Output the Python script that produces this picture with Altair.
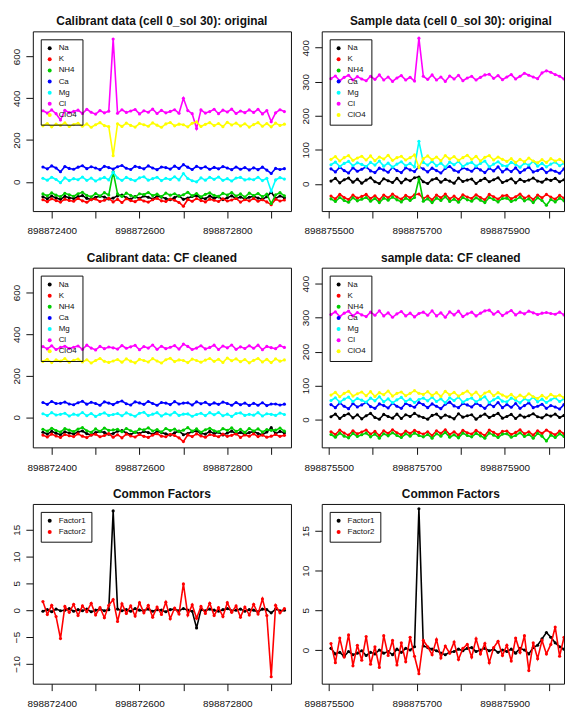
import altair as alt
import pandas as pd

ION_NAMES = ["Na", "K", "NH4", "Ca", "Mg", "Cl", "ClO4"]
ION_COLORS = ["#000000", "#FF0000", "#00CD00", "#0000FF", "#00FFFF", "#FF00FF", "#FFFF00"]
FACTOR_NAMES = ["Factor1", "Factor2"]
FACTOR_COLORS = ["#000000", "#FF0000"]

CAL_TIME_START = 898872380
SMP_TIME_START = 898875505
TIME_STEP = 10

# ---------------- calibrant, original ----------------
CAL_NA = [-72, -81, -68, -77, -84, -70, -76, -80,
          -71, -66, -79, -85, -74, -69, -73, -82,
          -78, -67, -64, -76, -83, -71, -79, -68,
          -74, -82, -69, -73, -80, -86, -75, -67,
          -84, -78, -70, -66, -77, -81, -68, -79,
          -72, -85, -76, -67, -80, -73, -82, -74,
          -69, -78, -84, -71, -50, -79, -68, -76]
CAL_K = [-86, -95, -81, -90, -97, -83, -89, -93,
         -80, -91, -98, -85, -82, -94, -88, -79,
         -96, -84, -99, -81, -90, -95, -83, -92,
         -97, -86, -79, -91, -94, -82, -88, -99,
         -117, -85, -93, -80, -90, -96, -83, -88,
         -94, -81, -92, -87, -79, -97, -85, -91,
         -80, -93, -86, -96, -110, -83, -92, -87]
CAL_NH4 = [-58, -67, -53, -64, -71, -55, -62, -69,
           -57, -50, -65, -72, -56, -68, -52, -63,
           48, -58, -70, -54, -65, -73, -57, -61,
           -51, -66, -59, -71, -54, -64, -57, -69,
           -62, -50, -67, -56, -72, -60, -53, -65,
           -70, -55, -63, -51, -68, -58, -73, -54,
           -66, -56, -71, -59, -104, -62, -52, -67]
CAL_CA = [71, 62, 76, 66, 48, 73, 64, 60,
          70, 77, 63, 72, 66, 58, 74, 68,
          61, 72, 78, 65, 59, 74, 69, 62,
          76, 66, 58, 71, 68, 61, 75, 64,
          82, 70, 59, 74, 65, 72, 60, 69,
          62, 73, 66, 58, 71, 60, 68, 57,
          67, 58, 70, 56, 40, 64, 59, 63]
CAL_MG = [17, 8, 22, 11, -4, 19, 6, 15,
          10, 23, 7, 18, 4, 14, 21, 9,
          46, 18, 7, 21, 12, 5, 19, 24,
          8, 15, 22, 6, 17, 11, 24, 9,
          40, 16, 5, 0, 19, 8, 22, 12,
          23, 7, 15, 4, 18, 21, 9, 14,
          10, 22, 6, 17, -45, 9, 20, 13]
CAL_CL = [340, 329, 344, 326, 296, 342, 331, 337,
          343, 327, 347, 333, 324, 341, 330, 338,
          683, 328, 345, 332, 339, 346, 325, 340,
          333, 348, 327, 342, 330, 337, 345, 328,
          400, 341, 326, 255, 344, 329, 336, 347,
          326, 343, 334, 348, 327, 339, 331, 344,
          332, 347, 325, 341, 288, 330, 345, 336]
CAL_CLO4 = [268, 279, 263, 276, 270, 282, 265, 274,
            280, 266, 277, 261, 273, 283, 269, 264,
            125, 278, 265, 281, 270, 262, 279, 273,
            266, 282, 271, 261, 277, 284, 268, 276,
            273, 263, 280, 287, 265, 275, 283, 269,
            279, 264, 285, 272, 281, 267, 278, 262,
            274, 283, 266, 279, 263, 281, 270, 276]

# values that differ after the common-factor cleaning (index -> value)
CAL_CLEANED_VALUES = {
    "K": {52: -91},
    "NH4": {16: -61, 52: -63},
    "Ca": {4: 67, 32: 68, 52: 64},
    "Mg": {4: 14, 16: 13, 32: 15, 35: 13, 52: 14},
    "Cl": {4: 336, 16: 334, 32: 352, 35: 333, 52: 335},
    "ClO4": {16: 271, 35: 273},
}

# ---------------- sample, original ----------------
SMP_NA = [8, 16, 3, 12, 17, 5, 14, 2,
          11, 18, 6, 1, 15, 9, 4, 16,
          3, 14, 9, 18, 20, 6, 1, 12,
          16, 5, 13, 8, 2, 17, 7, 11,
          14, 1, 10, 16, 6, 12, 18, 4,
          9, 15, 3, 13, 7, 11, 17, 8,
          5, 14, 10, 16, 6, 12, 2, 15]
SMP_K = [-36, -44, -31, -40, -46, -33, -42, -37,
         -31, -43, -35, -47, -33, -41, -30, -39,
         -45, -34, -41, -32, -30, -43, -36, -47,
         -33, -41, -30, -44, -36, -46, -32, -39,
         -43, -32, -40, -47, -31, -38, -45, -35,
         -34, -44, -38, -30, -42, -36, -46, -33,
         -41, -31, -39, -45, -34, -42, -36, -44]
SMP_NH4 = [-44, -52, -40, -49, -54, -41, -50, -45,
           -40, -51, -43, -55, -42, -48, -39, -47,
           -53, -42, -49, -40, 15, -51, -44, -55,
           -42, -49, -38, -52, -45, -54, -40, -47,
           -51, -41, -48, -55, -40, -46, -53, -43,
           -42, -52, -47, -39, -50, -44, -55, -41,
           -49, -63, -46, -53, -42, -50, -44, -52]
SMP_CA = [44, 35, 49, 39, 32, 47, 37, 43,
          50, 38, 33, 46, 41, 34, 48, 39,
          33, 47, 41, 36, 50, 44, 35, 46,
          39, 32, 45, 51, 40, 35, 47, 43,
          37, 48, 41, 33, 46, 38, 50, 35,
          44, 36, 47, 33, 41, 49, 35, 39,
          45, 33, 41, 37, 31, 44, 36, 40]
SMP_MG = [56, 64, 51, 60, 66, 53, 62, 57,
          51, 63, 55, 67, 52, 61, 49, 58,
          65, 53, 60, 50, 125, 63, 55, 66,
          53, 61, 49, 64, 56, 66, 51, 59,
          63, 52, 60, 67, 50, 58, 65, 54,
          52, 63, 57, 49, 61, 55, 66, 52,
          60, 50, 58, 64, 53, 61, 56, 62]
SMP_CL = [309, 317, 303, 313, 319, 305, 315, 308,
          303, 316, 307, 320, 305, 314, 301, 311,
          318, 305, 313, 302, 428, 316, 307, 320,
          305, 314, 301, 317, 308, 319, 303, 311,
          316, 305, 313, 320, 322, 310, 318, 306,
          314, 321, 308, 316, 325, 319, 314, 309,
          326, 332, 328, 321, 316, 308, 315, 307]
SMP_CLO4 = [72, 80, 67, 77, 83, 69, 76, 81,
            70, 82, 68, 79, 73, 84, 69, 77,
            81, 70, 77, 85, 48, 74, 82, 71,
            79, 68, 83, 73, 80, 69, 77, 84,
            72, 81, 67, 78, 83, 70, 79, 72,
            66, 74, 63, 72, 65, 76, 67, 62,
            71, 63, 74, 67, 72, 64, 75, 69]

SMP_CLEANED_VALUES = {
    "Na": {20: 10},
    "K": {20: -38},
    "NH4": {20: -47},
    "Mg": {20: 59},
    "Cl": {20: 312, 44: 311, 48: 313, 49: 315, 50: 312, 51: 310},
    "ClO4": {20: 77},
}

# ---------------- common factors ----------------
CF_CAL_F1 = [-0.2, 0.1, -0.3, 0.2, -0.1, 0.0, 0.3, -0.2,
             0.1, -0.1, 0.2, -0.3, 0.0, 0.2, -0.1, 0.1,
             18.5, 0.2, -0.1, 0.1, -0.2, 0.3, 0.0, -0.1,
             0.2, -0.2, 0.1, 0.0, -0.3, 0.1, 0.2, -0.1,
             0.3, 0.0, -0.2, -3.3, 0.1, -0.1, 0.2, 0.0,
             -0.2, 0.1, 0.3, -0.1, 0.0, 0.2, -0.2, 0.1,
             0.0, -0.3, 0.2, 0.1, -0.5, 0.2, -0.1, 0.0]
CF_CAL_F2 = [1.6, -0.8, 0.9, -1.2, -5.3, 0.7, -0.4, 1.1,
             -1.0, 0.8, -0.3, 1.3, -0.9, 0.5, -1.4, 0.9,
             2.0, -2.1, 1.2, -0.6, 0.8, -1.1, 1.4, -0.5,
             0.9, -1.3, 0.6, -0.8, 1.5, -1.6, 0.4, -0.7,
             4.9, -0.9, 1.0, -1.5, 0.7, -0.6, 1.3, -1.0,
             0.5, -1.2, 1.4, -0.4, 0.8, -1.3, 0.6, -0.9,
             1.1, -0.7, 2.1, -1.0, -12.4, 0.9, -0.5, 0.3]
CF_SMP_F1 = [0.2, -0.5, -0.3, -0.8, -0.2, -0.6, -0.4, -0.1,
             -0.7, -0.3, -0.5, 0.0, -0.4, -0.2, -0.6, 0.1,
             -0.3, 0.2, 0.0, 0.4, 17.8, 0.5, 0.3, 0.1,
             -0.1, -0.4, -0.6, -0.3, -0.2, 0.1, -0.1, 0.2,
             0.3, -0.2, 0.0, 0.2, -0.1, 0.1, -0.3, 0.0,
             -0.2, 0.1, -0.4, 0.2, 0.0, -0.5, 0.3, 0.6,
             1.4, 2.2, 1.6, 0.9, 0.4, 0.1, 0.3, -0.2]
CF_SMP_F2 = [0.8, -1.6, 1.5, -0.9, 1.9, -2.0, 0.6, -1.3,
             1.7, -1.8, 0.4, -2.2, 1.8, -0.7, 1.2, -1.9,
             0.9, -1.5, 1.6, -0.8, -3.0, 1.2, 0.4, -0.6,
             1.3, -1.0, 0.5, -0.4, 1.0, -1.2, 0.2, 0.7,
             -0.9, 1.4, -0.5, 0.8, -1.6, 0.3, 1.1, -0.7,
             0.6, -1.4, 1.5, -0.3, 1.8, -2.6, 0.9, -1.1,
             1.2, -0.5, 0.7, 2.9, -0.8, 1.6, -0.4, 0.5]

CAL_X_TICKS = [898872400, 898872500, 898872600, 898872700, 898872800, 898872900]
SMP_X_TICKS = [898875500, 898875600, 898875700, 898875800, 898875900, 898876000]
CAL_Y_TICKS = [0, 200, 400, 600]
SMP_Y_TICKS = [0, 100, 200, 300, 400]
CF_CAL_Y_TICKS = [-10, -5, 0, 5, 10, 15]
CF_SMP_Y_TICKS = [0, 5, 10, 15]

FONT = "Liberation Sans, Arial, Helvetica, sans-serif"
TITLE_FONT = "Liberation Sans Narrow, Liberation Sans, Arial, sans-serif"

CAL_ORIG = dict(zip(ION_NAMES, [CAL_NA, CAL_K, CAL_NH4, CAL_CA, CAL_MG, CAL_CL, CAL_CLO4]))
SMP_ORIG = dict(zip(ION_NAMES, [SMP_NA, SMP_K, SMP_NH4, SMP_CA, SMP_MG, SMP_CL, SMP_CLO4]))
CF_CAL = dict(zip(FACTOR_NAMES, [CF_CAL_F1, CF_CAL_F2]))
CF_SMP = dict(zip(FACTOR_NAMES, [CF_SMP_F1, CF_SMP_F2]))


def with_cleaned(orig, fixes):
    out = {}
    for name, vals in orig.items():
        vv = list(vals)
        for i, v in fixes.get(name, {}).items():
            vv[i] = v
        out[name] = vv
    return out


def to_frame(series, names, start):
    rows = []
    for n in names:
        for i, v in enumerate(series[n]):
            rows.append({"t": start + TIME_STEP * i, "v": v, "s": n})
    return pd.DataFrame(rows)


def panel(series, names, colors, start, title, xdom, ydom, xticks, yticks, rem, width, title_dx):
    df = to_frame(series, names, start)
    xs = alt.Scale(domain=xdom, nice=False, zero=False)
    ys = alt.Scale(domain=ydom, nice=False, zero=False)
    xax = alt.Axis(values=xticks, title=None,
                   labelExpr=f"round(datum.value / 100) % 2 == {rem} ? format(datum.value, 'd') : ''")
    yax = alt.Axis(values=yticks, title=None, labelAngle=270, labelAlign="center", labelBaseline="bottom")
    cscale = alt.Scale(domain=names, range=colors)
    leg = alt.Legend(title=None, orient="top-left", offset=8)
    layers = []
    for n in names:
        b = alt.Chart(df).transform_filter(alt.datum.s == n)
        enc = dict(
            x=alt.X("t:Q", scale=xs, axis=xax),
            y=alt.Y("v:Q", scale=ys, axis=yax),
            color=alt.Color("s:N", scale=cscale, legend=leg),
        )
        layers.append(b.mark_circle(size=10, opacity=1, clip=True).encode(**enc))
        layers.append(b.mark_line(strokeWidth=1.6, clip=True).encode(**enc))
    return alt.layer(*layers).properties(
        width=width, height=181,
        title=alt.TitleParams(title, dx=title_dx),
    )


CAL_XDOM = [898872357, 898872945]
SMP_XDOM = [898875484, 898876035]
LW, RW = 260, 244

p1 = panel(CAL_ORIG, ION_NAMES, ION_COLORS, CAL_TIME_START, "Calibrant data (cell 0_sol 30): original",
           CAL_XDOM, [-140, 720], CAL_X_TICKS, CAL_Y_TICKS, 0, LW, 0)
p2 = panel(SMP_ORIG, ION_NAMES, ION_COLORS, SMP_TIME_START, "Sample data (cell 0_sol 30): original",
           SMP_XDOM, [-80, 448], SMP_X_TICKS, SMP_Y_TICKS, 1, RW, 8)
p3 = panel(with_cleaned(CAL_ORIG, CAL_CLEANED_VALUES), ION_NAMES, ION_COLORS, CAL_TIME_START,
           "Calibrant data: CF cleaned", CAL_XDOM, [-145, 720], CAL_X_TICKS, CAL_Y_TICKS, 0, LW, 0)
p4 = panel(with_cleaned(SMP_ORIG, SMP_CLEANED_VALUES), ION_NAMES, ION_COLORS, SMP_TIME_START,
           "sample data: CF cleaned", SMP_XDOM, [-82, 447], SMP_X_TICKS, SMP_Y_TICKS, 1, RW, 8)
p5 = panel(CF_CAL, FACTOR_NAMES, FACTOR_COLORS, CAL_TIME_START, "Common Factors",
           CAL_XDOM, [-13.7, 19.8], CAL_X_TICKS, CF_CAL_Y_TICKS, 0, LW, 0)
p6 = panel(CF_SMP, FACTOR_NAMES, FACTOR_COLORS, SMP_TIME_START, "Common Factors",
           SMP_XDOM, [-4.25, 18.4], SMP_X_TICKS, CF_SMP_Y_TICKS, 1, RW, 8)

row1 = alt.hconcat(p1, p2, spacing=8).resolve_scale(color="independent").resolve_legend(color="independent")
row2 = alt.hconcat(p3, p4, spacing=8).resolve_scale(color="independent").resolve_legend(color="independent")
row3 = alt.hconcat(p5, p6, spacing=8).resolve_scale(color="independent").resolve_legend(color="independent")

chart = (
    alt.vconcat(row1, row2, row3, spacing=14)
    .resolve_scale(color="independent")
    .resolve_legend(color="independent")
    .properties(padding={"left": 3, "top": 4, "right": 0, "bottom": 0})
    .configure_view(stroke="#111111", strokeWidth=1)
    .configure_axis(domain=False, grid=False, ticks=True, tickColor="#111111", tickSize=7,
                    labelColor="#111111", labelFont=FONT, labelFontSize=10)
    .configure_axisX(labelPadding=8)
    .configure_axisY(labelPadding=4)
    .configure_legend(strokeColor="#111111", fillColor="transparent", padding=5, labelFont=TITLE_FONT,
                      labelFontSize=8, labelColor="#111111", symbolSize=16, symbolType="circle",
                      symbolStrokeWidth=0, symbolOpacity=1, rowPadding=3.2, labelOffset=5)
    .configure_title(font=TITLE_FONT, fontSize=12, fontWeight="bold", color="#111111", offset=3)
)

chart.save("out.html", embed_options={"renderer": "svg", "actions": False})
